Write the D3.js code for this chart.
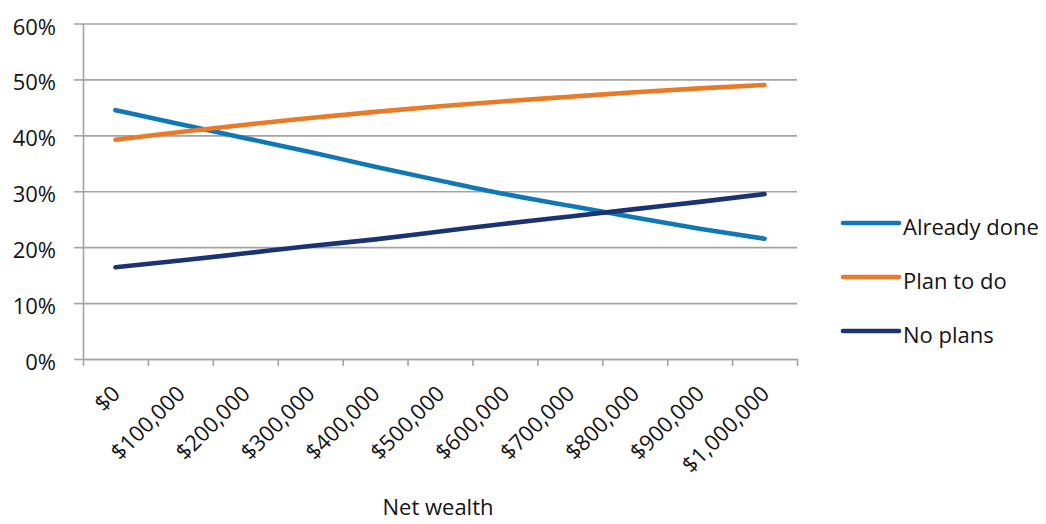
<!DOCTYPE html>
<html>
<head>
<meta charset="utf-8">
<script src="https://cdn.jsdelivr.net/npm/d3@7"></script>
<style>
  html, body { margin: 0; padding: 0; background: #fff; }
  svg { display: block; font-family: "Open Sans", "DejaVu Sans", sans-serif; }
</style>
</head>
<body>
<svg id="chart" width="1046" height="524"></svg>
<script>
// Net-wealth categories along the x axis
const categories = ["$0", "$100,000", "$200,000", "$300,000", "$400,000", "$500,000",
                    "$600,000", "$700,000", "$800,000", "$900,000", "$1,000,000"];

// Share of respondents per net-wealth level (fractions)
const alreadyDone = [0.445, 0.420, 0.395, 0.370, 0.344, 0.319, 0.295, 0.274, 0.253, 0.233, 0.215];
const planToDo    = [0.392, 0.406, 0.419, 0.431, 0.442, 0.452, 0.461, 0.469, 0.477, 0.484, 0.490];
const noPlans     = [0.164, 0.176, 0.189, 0.202, 0.214, 0.228, 0.242, 0.255, 0.268, 0.281, 0.295];

const seriesNames = ["Already done", "Plan to do", "No plans"];
const seriesColors = ["#1078b5", "#e97a27", "#1c3371"];
const yTicks = [0, 0.1, 0.2, 0.3, 0.4, 0.5, 0.6];
const xTitle = "Net wealth";

const series = [alreadyDone, planToDo, noPlans].map((values, i) => ({
  name: seriesNames[i], color: seriesColors[i], values
}));

const svg = d3.select("#chart");
const plot = { left: 83, right: 797, top: 23.5, bottom: 359 };
const axisGrey = "#a3a3a3";
const textColor = "#141414";
const fontSize = 22;

const x = d3.scaleBand().domain(categories).range([plot.left, plot.right]).padding(0);
const y = d3.scaleLinear().domain([0, 0.6]).range([plot.bottom, plot.top]);
// Boundaries between categories, where the tick marks sit
const xEdges = d3.scaleLinear().domain([0, categories.length]).range([plot.left, plot.right]);

// Horizontal gridlines
const grid = svg.append("g")
  .attr("transform", `translate(${plot.left},0)`)
  .call(d3.axisRight(y).tickValues(yTicks).tickSize(plot.right - plot.left).tickFormat(""));
grid.select(".domain").remove();
grid.selectAll("line").attr("stroke", axisGrey).attr("stroke-width", 1.6);

// Y axis with percent labels
const yAxis = svg.append("g")
  .attr("transform", `translate(${plot.left},0)`)
  .call(d3.axisLeft(y).tickValues(yTicks).tickSizeInner(9).tickSizeOuter(0)
        .tickPadding(18).tickFormat(d3.format(".0%")));
yAxis.select(".domain").attr("stroke", axisGrey).attr("stroke-width", 1.6);
yAxis.selectAll("line").attr("stroke", axisGrey).attr("stroke-width", 1.6);
yAxis.selectAll("text")
  .attr("fill", textColor).attr("font-size", fontSize)
  .attr("font-family", "'Open Sans', sans-serif").attr("dy", "0.48em");

// X axis line and category-boundary ticks
const xTickAxis = svg.append("g")
  .attr("transform", `translate(0,${plot.bottom})`)
  .call(d3.axisBottom(xEdges).tickValues(d3.range(categories.length + 1))
        .tickSizeInner(7).tickSizeOuter(0).tickFormat(""));
xTickAxis.select(".domain").attr("stroke", axisGrey).attr("stroke-width", 1.6);
xTickAxis.selectAll("line").attr("stroke", axisGrey).attr("stroke-width", 1.6);

// Rotated category labels
const xLabels = svg.append("g")
  .attr("transform", `translate(0,${plot.bottom})`)
  .call(d3.axisBottom(x).tickSize(0));
xLabels.select(".domain").remove();
xLabels.selectAll("text")
  .attr("fill", textColor).attr("font-size", fontSize)
  .attr("font-family", "'Open Sans', sans-serif")
  .attr("text-anchor", "end")
  .attr("y", 0).attr("dy", 0)
  .attr("transform", "translate(6,36) rotate(-45)");

// Axis title
svg.append("text")
  .attr("x", (plot.left + plot.right) / 2 - 2)
  .attr("y", 515)
  .attr("text-anchor", "middle")
  .attr("fill", textColor).attr("font-size", fontSize)
  .text(xTitle);

// Series lines
const line = d3.line()
  .x((d, i) => x(categories[i]) + x.bandwidth() / 2)
  .y(d => y(d))
  .curve(d3.curveMonotoneX);

svg.append("g").selectAll("path")
  .data(series)
  .join("path")
  .attr("d", d => line(d.values))
  .attr("fill", "none")
  .attr("stroke", d => d.color)
  .attr("stroke-width", 4.6)
  .attr("stroke-linecap", "round")
  .attr("stroke-linejoin", "round");

// Legend
const legend = svg.append("g").attr("transform", "translate(843,223)");
const item = legend.selectAll("g")
  .data(series)
  .join("g")
  .attr("transform", (d, i) => `translate(0,${i * 54})`);
item.append("line")
  .attr("x1", 0).attr("x2", 56).attr("y1", 0).attr("y2", 0)
  .attr("stroke", d => d.color).attr("stroke-width", 4.6)
  .attr("stroke-linecap", "round");
item.append("text")
  .attr("x", 60).attr("y", 12)
  .attr("fill", textColor).attr("font-size", fontSize)
  .text(d => d.name);
</script>
</body>
</html>
